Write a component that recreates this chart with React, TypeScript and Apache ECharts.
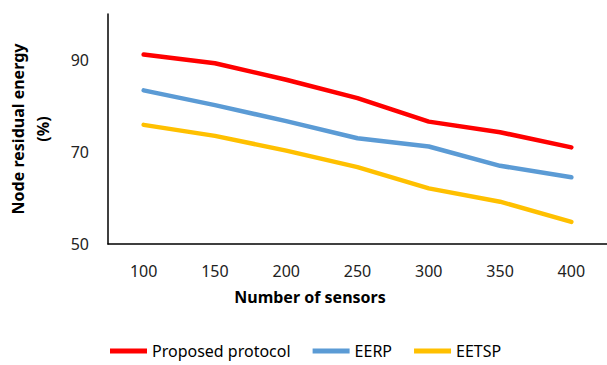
import React, { useEffect, useRef } from "react";
import * as echarts from "echarts";

const categories = ["100", "150", "200", "250", "300", "350", "400"];
const proposed = [91.2, 89.3, 85.7, 81.7, 76.6, 74.3, 71.0];
const eerp = [83.4, 80.2, 76.7, 73.0, 71.2, 67.0, 64.5];
const eetsp = [75.9, 73.5, 70.3, 66.7, 62.1, 59.2, 54.8];
const seriesNames = ["Proposed protocol", "EERP", "EETSP"];
const colors = ["#FF0000", "#5B9BD5", "#FFC000"];

const FONT = "Noto Sans";

export default function App() {
  const ref = useRef<HTMLDivElement>(null);
  useEffect(() => {
    if (!ref.current) return;
    const chart = echarts.init(ref.current, undefined, { renderer: "svg" });
    const datasets = [proposed, eerp, eetsp];
    chart.setOption({
      animation: false,
      backgroundColor: "#ffffff",
      textStyle: { fontFamily: FONT },
      grid: { left: 108, top: 14, width: 504, height: 230 },
      legend: {
        left: 105,
        top: 337,
        padding: 5,
        itemWidth: 37,
        itemHeight: 5,
        itemGap: 22,
        icon: "rect",
        textStyle: { fontFamily: FONT, fontSize: 16, color: "#000", lineHeight: 18 },
        data: seriesNames,
      },
      xAxis: {
        type: "category",
        data: categories,
        boundaryGap: true,
        axisLine: { lineStyle: { color: "#000", width: 1.5 } },
        axisTick: { show: false },
        axisLabel: { fontFamily: FONT, fontSize: 16, color: "#222", margin: 19 },
      },
      yAxis: {
        type: "value",
        min: 50,
        max: 100,
        interval: 20,
        splitLine: { show: false },
        axisLine: { show: true, lineStyle: { color: "#000", width: 1.5 } },
        axisTick: { show: false },
        axisLabel: { fontFamily: FONT, fontSize: 16, color: "#222", margin: 19, showMaxLabel: false },
      },
      graphic: [
        {
          type: "text",
          x: 30,
          y: 129,
          rotation: Math.PI / 2,
          style: {
            text: "Node residual energy\n(%)",
            font: `bold 16px "${FONT}"`,
            fill: "#000",
            textAlign: "center",
            textVerticalAlign: "middle",
            lineHeight: 25,
          },
        },
        {
          type: "text",
          x: 310,
          y: 297,
          style: {
            text: "Number of sensors",
            font: `bold 16px "${FONT}"`,
            fill: "#000",
            textAlign: "center",
            textVerticalAlign: "middle",
          },
        },
      ],
      series: seriesNames.map((name, i) => ({
        name,
        type: "line",
        data: datasets[i],
        showSymbol: false,
        symbol: "none",
        color: colors[i],
        lineStyle: { width: 4.5, color: colors[i], cap: "round", join: "round" },
      })),
    });
    return () => chart.dispose();
  }, []);
  return <div ref={ref} style={{ width: 607, height: 365, position: "absolute", left: 0, top: 0 }} />;
}
